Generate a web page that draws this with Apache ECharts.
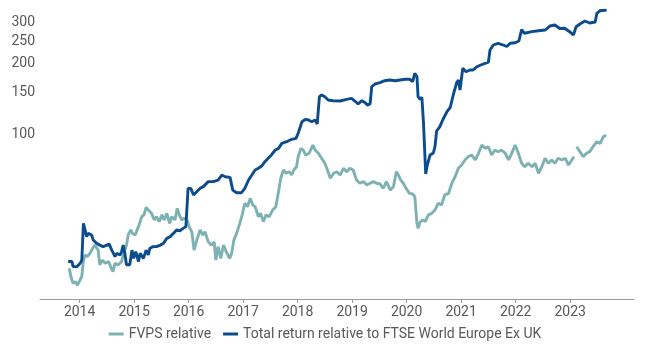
<!DOCTYPE html>
<html>
<head>
<meta charset="utf-8">
<style>
  html, body { margin: 0; padding: 0; background: #fff; }
  #chart { width: 650px; height: 350px; }
</style>
<script src="https://cdn.jsdelivr.net/npm/echarts@6/dist/echarts.min.js"></script>
</head>
<body>
<div id="chart"></div>
<script>
// Year ticks along the bottom and labelled levels on the (log) value axis
const yearTicks = [2014, 2015, 2016, 2017, 2018, 2019, 2020, 2021, 2022, 2023];
const valueTicks = [100, 150, 200, 250, 300];

// Total return relative to FTSE World Europe Ex UK (decimal year, index level)
const totalReturnDates = [
  2013.79, 2013.86, 2013.88, 2013.95, 2014.01, 2014.04, 2014.07, 2014.10, 2014.13, 2014.16,
  2014.22, 2014.25, 2014.31, 2014.37, 2014.43, 2014.50, 2014.54, 2014.59, 2014.65, 2014.68,
  2014.74, 2014.77, 2014.80, 2014.83, 2014.86, 2014.92, 2014.96, 2014.99, 2015.03, 2015.08,
  2015.11, 2015.17, 2015.22, 2015.26, 2015.29, 2015.35, 2015.41, 2015.48, 2015.54, 2015.60,
  2015.66, 2015.72, 2015.78, 2015.84, 2015.90, 2015.95, 2015.99, 2016.04, 2016.09, 2016.15,
  2016.21, 2016.27, 2016.36, 2016.45, 2016.54, 2016.61, 2016.67, 2016.76, 2016.81, 2016.88,
  2016.97, 2017.03, 2017.10, 2017.16, 2017.22, 2017.28, 2017.34, 2017.40, 2017.46, 2017.52,
  2017.59, 2017.65, 2017.71, 2017.80, 2017.89, 2017.97, 2018.01, 2018.08, 2018.14, 2018.20,
  2018.26, 2018.32, 2018.36, 2018.40, 2018.44, 2018.50, 2018.56, 2018.65, 2018.78, 2018.90,
  2018.99, 2019.05, 2019.11, 2019.18, 2019.24, 2019.28, 2019.33, 2019.36, 2019.42, 2019.51,
  2019.60, 2019.69, 2019.79, 2019.88, 2019.97, 2020.06, 2020.11, 2020.15, 2020.19, 2020.21,
  2020.25, 2020.28, 2020.31, 2020.35, 2020.38, 2020.43, 2020.49, 2020.52, 2020.55, 2020.61,
  2020.67, 2020.74, 2020.80, 2020.86, 2020.92, 2020.95, 2020.98, 2021.03, 2021.09, 2021.16,
  2021.22, 2021.29, 2021.36, 2021.44, 2021.50, 2021.53, 2021.59, 2021.68, 2021.77, 2021.84,
  2021.90, 2021.99, 2022.06, 2022.11, 2022.16, 2022.30, 2022.42, 2022.54, 2022.63, 2022.72,
  2022.81, 2022.90, 2022.99, 2023.06, 2023.11, 2023.18, 2023.27, 2023.36, 2023.46, 2023.49,
  2023.55, 2023.67
];
const totalReturnValues = [
  28.4, 28.4, 27.0, 27.0, 27.9, 28.8, 41.4, 40.7, 36.3, 37.5,
  36.9, 35.1, 34.0, 33.4, 32.9, 33.4, 33.8, 31.8, 29.8, 30.8,
  30.3, 31.3, 33.4, 30.8, 27.5, 27.5, 31.8, 29.3, 31.3, 28.4,
  30.8, 29.3, 31.8, 30.3, 32.4, 32.9, 32.9, 33.4, 34.0, 35.7,
  36.3, 37.5, 38.8, 38.5, 39.4, 40.1, 58.5, 58.5, 54.8, 56.6,
  58.5, 59.5, 62.5, 62.5, 63.5, 66.7, 65.6, 65.2, 57.5, 56.0,
  56.0, 58.5, 63.5, 66.7, 70.1, 71.3, 72.9, 76.1, 78.7, 81.3,
  85.4, 86.8, 91.2, 92.7, 94.9, 95.8, 100.7, 112.9, 115.6, 114.8,
  112.9, 114.8, 110.4, 144.5, 147.0, 144.5, 139.9, 138.9, 138.5, 140.8,
  142.2, 138.5, 134.5, 138.9, 136.2, 133.1, 134.5, 159.5, 163.8, 165.9,
  169.2, 170.4, 169.2, 170.4, 171.6, 171.6, 167.6, 182.0, 176.0, 144.5,
  140.8, 143.7, 111.1, 67.4, 73.6, 81.3, 82.9, 88.2, 103.0, 107.5,
  116.0, 124.6, 129.9, 148.4, 166.3, 170.4, 154.4, 191.3, 184.9, 188.1,
  188.1, 194.3, 197.6, 200.9, 203.1, 229.1, 240.7, 244.8, 240.7, 237.2,
  244.8, 246.2, 250.4, 280.5, 270.2, 274.5, 277.2, 279.1, 290.3, 293.2,
  283.3, 283.8, 274.5, 265.7, 288.3, 296.1, 305.0, 299.1, 302.0, 329.1,
  337.7, 340.0
];

// FVPS relative (decimal year, index level); null marks a short break in the line
const fvpsDates = [
  2013.81, 2013.84, 2013.88, 2013.92, 2013.96, 2013.99, 2014.04, 2014.07, 2014.10, 2014.14,
  2014.19, 2014.24, 2014.28, 2014.31, 2014.34, 2014.37, 2014.42, 2014.47, 2014.53, 2014.57,
  2014.61, 2014.65, 2014.71, 2014.77, 2014.80, 2014.86, 2014.89, 2014.94, 2014.97, 2015.02,
  2015.08, 2015.14, 2015.18, 2015.22, 2015.26, 2015.32, 2015.37, 2015.41, 2015.46, 2015.51,
  2015.55, 2015.60, 2015.65, 2015.69, 2015.75, 2015.79, 2015.83, 2015.87, 2015.92, 2015.97,
  2016.01, 2016.06, 2016.10, 2016.15, 2016.21, 2016.26, 2016.30, 2016.36, 2016.42, 2016.47,
  2016.50, 2016.54, 2016.59, 2016.64, 2016.69, 2016.75, 2016.79, 2016.83, 2016.88, 2016.94,
  2016.99, 2017.03, 2017.08, 2017.13, 2017.18, 2017.22, 2017.28, 2017.32, 2017.37, 2017.42,
  2017.48, 2017.54, 2017.60, 2017.65, 2017.69, 2017.74, 2017.79, 2017.85, 2017.89, 2017.93,
  2017.98, 2018.01, 2018.06, 2018.10, 2018.15, 2018.21, 2018.28, 2018.32, 2018.38, 2018.44,
  2018.50, 2018.56, 2018.60, 2018.66, 2018.72, 2018.78, 2018.84, 2018.90, 2018.96, 2019.02,
  2019.08, 2019.14, 2019.21, 2019.27, 2019.33, 2019.39, 2019.45, 2019.51, 2019.57, 2019.63,
  2019.70, 2019.76, 2019.81, 2019.85, 2019.89, 2019.94, 2019.99, 2020.05, 2020.11, 2020.15,
  2020.19, 2020.21, 2020.25, 2020.30, 2020.34, 2020.40, 2020.46, 2020.52, 2020.58, 2020.64,
  2020.70, 2020.77, 2020.83, 2020.89, 2020.95, 2021.01, 2021.07, 2021.13, 2021.19, 2021.26,
  2021.32, 2021.38, 2021.44, 2021.50, 2021.56, 2021.62, 2021.68, 2021.74, 2021.81, 2021.87,
  2021.93, 2021.99, 2022.05, 2022.11, 2022.17, 2022.23, 2022.30, 2022.36, 2022.42, 2022.48,
  2022.54, 2022.60, 2022.66, 2022.72, 2022.78, 2022.85, 2022.91, 2022.97, 2023.03, 2023.07,
  2023.09, 2023.12, 2023.18, 2023.24, 2023.30, 2023.36, 2023.42, 2023.49, 2023.55, 2023.61,
  2023.66
];
const fvpsValues = [
  26.6, 24.5, 22.9, 23.3, 22.5, 22.9, 24.5, 28.8, 30.3, 29.8,
  30.8, 32.4, 33.4, 32.9, 31.8, 27.5, 28.8, 27.9, 28.4, 27.0,
  25.7, 27.9, 27.5, 28.4, 30.3, 33.4, 36.9, 38.8, 37.5, 36.9,
  40.1, 44.2, 45.0, 48.5, 47.2, 45.7, 42.8, 44.2, 42.1, 45.0,
  42.8, 45.7, 41.4, 44.2, 42.8, 48.0, 45.0, 42.8, 43.5, 42.8,
  40.1, 38.0, 31.8, 35.1, 38.8, 36.9, 38.1, 34.5, 33.4, 34.5,
  28.8, 32.9, 29.3, 33.4, 31.3, 29.3, 30.8, 35.1, 37.5, 41.4,
  45.7, 50.5, 48.8, 53.0, 49.6, 48.8, 44.2, 45.7, 42.1, 45.0,
  44.2, 47.2, 48.8, 56.6, 64.6, 70.1, 67.9, 68.9, 66.7, 70.1,
  72.4, 79.9, 86.8, 85.4, 81.3, 82.7, 89.7, 85.4, 82.7, 78.7,
  74.9, 68.7, 64.6, 67.9, 68.9, 66.7, 71.3, 68.9, 71.3, 70.1,
  63.5, 61.5, 62.5, 60.5, 61.5, 62.5, 61.5, 61.1, 58.5, 62.5,
  57.5, 59.5, 68.9, 66.7, 63.5, 61.5, 58.5, 55.7, 55.3, 53.9,
  41.4, 39.4, 42.1, 42.8, 42.1, 45.0, 45.7, 47.2, 50.5, 49.6,
  54.8, 55.7, 61.5, 65.6, 71.3, 73.6, 77.4, 79.9, 81.3, 77.4,
  82.7, 89.7, 86.8, 88.2, 81.3, 85.4, 84.0, 85.4, 82.7, 77.4,
  82.7, 89.7, 82.7, 74.9, 72.4, 74.9, 72.4, 74.9, 67.9, 72.4,
  78.7, 74.9, 77.4, 74.9, 78.7, 77.4, 78.7, 73.6, 77.4, 79.9,
  null, 88.2, 84.0, 79.9, 82.7, 84.0, 88.2, 92.7, 91.2, 97.4,
  99.0
];

const log10 = v => (v == null ? null : Math.log10(v));
const pairs = (xs, ys) => xs.map((x, i) => [x, log10(ys[i])]);

const chart = echarts.init(document.getElementById('chart'), null, { renderer: 'canvas' });

const textColor = '#595959';
const fontFamily = 'Roboto, "Liberation Sans", Arial, sans-serif';

chart.setOption({
  animation: false,
  backgroundColor: '#ffffff',
  textStyle: { fontFamily: fontFamily },
  grid: { left: 40, right: 16, top: 10, bottom: 51, containLabel: false },
  legend: {
    top: 322,
    left: 'center',
    itemWidth: 15,
    itemHeight: 3,
    itemGap: 12,
    icon: 'rect',
    textStyle: { color: textColor, fontSize: 14, fontFamily: fontFamily },
    data: ['FVPS relative', 'Total return relative to FTSE World Europe Ex UK']
  },
  xAxis: {
    type: 'value',
    min: 2013.273,
    max: 2024.172,
    axisLine: { show: true, lineStyle: { color: '#9a9a9a', width: 1 } },
    axisTick: { show: true, length: 4, lineStyle: { color: '#9a9a9a' }, customValues: yearTicks },
    axisLabel: {
      color: textColor, fontSize: 14, margin: 6,
      customValues: yearTicks,
      formatter: v => String(Math.round(v))
    },
    splitLine: { show: false }
  },
  yAxis: {
    type: 'value',
    min: 1.2928,
    max: 2.5315,
    axisLine: { show: false },
    axisTick: { show: false },
    splitLine: { show: false },
    axisLabel: {
      color: textColor, fontSize: 14, margin: 5,
      customValues: valueTicks.map(v => Math.log10(v)),
      formatter: v => String(Math.round(Math.pow(10, v)))
    }
  },
  series: [
    {
      name: 'FVPS relative',
      type: 'line',
      showSymbol: false,
      connectNulls: false,
      itemStyle: { color: '#7eb1b2' },
      lineStyle: { color: '#7eb1b2', width: 2.9 },
      data: pairs(fvpsDates, fvpsValues),
      z: 2
    },
    {
      name: 'Total return relative to FTSE World Europe Ex UK',
      type: 'line',
      showSymbol: false,
      itemStyle: { color: '#0b4c8c' },
      lineStyle: { color: '#0b4c8c', width: 2.9 },
      data: pairs(totalReturnDates, totalReturnValues),
      z: 3
    }
  ]
});
</script>
</body>
</html>
